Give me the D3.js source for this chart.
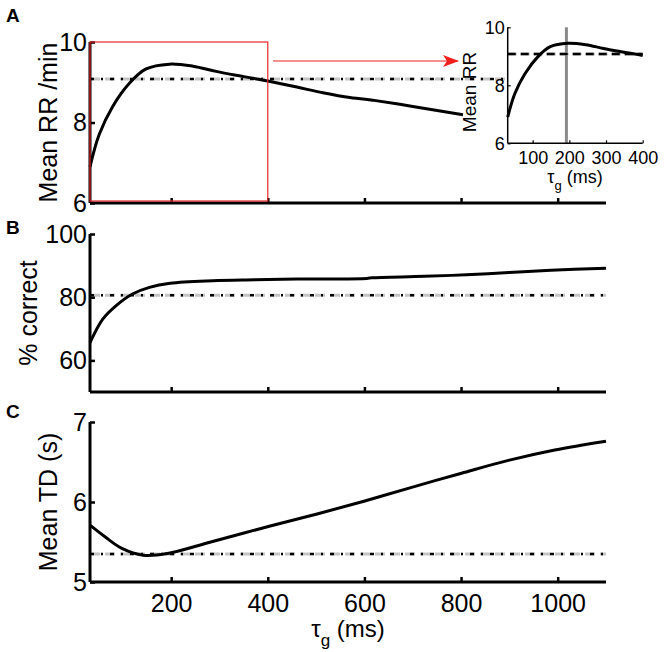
<!DOCTYPE html>
<html><head><meta charset="utf-8">
<script src="https://cdn.jsdelivr.net/npm/d3@7"></script>
<style>body{margin:0;background:#fff}svg{display:block;font-family:"Liberation Sans",Arial,sans-serif}</style>
</head><body><svg id="c" width="664" height="652"></svg>
<script>
// ---- data ----
const tauA = [32,51,79,114,148,196,245,293,341,383,400,460,514,570,614,620,700,804];
const rrA  = [6.9,7.7,8.40,8.98,9.33,9.45,9.40,9.27,9.16,9.07,9.03,8.88,8.74,8.62,8.56,8.55,8.40,8.19];
const tauB = [32,58,85,120,155,198,286,373,461,605,615,724,811,899,986,1100];
const pcB  = [65.6,73.0,77.2,81.0,83.1,84.4,85.2,85.5,85.75,85.95,86.15,86.6,87.1,87.8,88.5,89.2];
const tauC = [32,63,98,142,195,282,405,502,599,696,801,898,994,1100];
const tdC  = [5.71,5.565,5.42,5.335,5.36,5.50,5.70,5.85,6.01,6.18,6.36,6.52,6.65,6.76];
const baseA = 9.08, baseB = 80.6, baseC = 5.35;
const insetMarker = 192;
const xTicks = [200,400,600,800,1000];
const yTicksA = [6,8,10], yTicksB = [60,80,100], yTicksC = [5,6,7];
const insetXTicks = [100,200,300,400], insetYTicks = [6,8,10];
const zoomRange = [32,400];

const svg = d3.select("#c");
const x = d3.scaleLinear().domain([32,1100]).range([90,606]);
const curve = d3.curveCatmullRom.alpha(0.5);

function baseline(g, x1, x2, yy, gray, black){
  g.append("line").attr("x1",x1).attr("x2",x2).attr("y1",yy).attr("y2",yy)
    .attr("stroke","#c4c4c4").attr("stroke-width",3).attr("stroke-dasharray",gray);
  g.append("line").attr("x1",x1).attr("x2",x2).attr("y1",yy).attr("y2",yy)
    .attr("stroke","#000").attr("stroke-width",2.5).attr("stroke-dasharray",black);
}

function panel(yDom, yRange, yTicks, tau, vals, base, label, letterY, ylab, ylabX, baseEnd){
  const y = d3.scaleLinear().domain(yDom).range(yRange);
  const g = svg.append("g");
  baseline(g, 90, baseEnd || 606, y(base), "10,5", "4,7,2,7");
  g.append("path").datum(tau.map((t,i)=>[t,vals[i]]))
    .attr("fill","none").attr("stroke","#000").attr("stroke-width",3)
    .attr("d", d3.line().x(d=>x(d[0])).y(d=>y(d[1])).curve(curve));
  const ax = g.append("g").attr("transform",`translate(0,${yRange[0]})`)
    .call(d3.axisBottom(x).tickValues(xTicks).tickSize(-5).tickFormat(label==="C"?d3.format("d"):""));
  const ay = g.append("g").attr("transform","translate(90,0)")
    .call(d3.axisLeft(y).tickValues(yTicks).tickSize(-5).tickFormat(d3.format("d")));
  [ax,ay].forEach(a=>{
    a.select(".domain").attr("stroke","#000").attr("stroke-width",3).attr("d",
      a===ax ? `M90,0H606` : `M0,${yRange[0]}V${yRange[1]}`);
    a.selectAll(".tick line").attr("stroke","#000").attr("stroke-width",2.5);
    a.selectAll(".tick text").attr("font-size",25).attr("fill","#000").attr("font-family","Liberation Sans, Arial");
  });
  ay.selectAll(".tick text").attr("x",-3);
  ax.selectAll(".tick text").attr("y",12);
  svg.append("text").attr("x",6).attr("y",letterY).attr("font-size",19).attr("font-weight","bold").text(label);
  svg.append("text").attr("transform",`translate(${ylabX},${(yRange[0]+yRange[1])/2}) rotate(-90)`)
    .attr("text-anchor","middle").attr("font-size",25).text(ylab);
  return y;
}

const yA = panel([6,10],[203,42],yTicksA,tauA,rrA,baseA,"A",22,"Mean RR /min",57,505);
panel([50,100],[392,234],yTicksB,tauB,pcB,baseB,"B",234,"% correct",37);
panel([5,7],[582,422],yTicksC,tauC,tdC,baseC,"C",418,"Mean TD (s)",57);

// x label main
const xl = svg.append("text").attr("x",348).attr("y",637).attr("text-anchor","middle").attr("font-size",24);
xl.append("tspan").text("τ");
xl.append("tspan").attr("font-size",17).attr("dy",9).text("g");
xl.append("tspan").attr("dy",-9).text(" (ms)");

// red zoom box
svg.append("rect").attr("x",x(zoomRange[0])).attr("y",yA(10)).attr("width",x(zoomRange[1])-x(zoomRange[0]))
  .attr("height",yA(6)-yA(10)-2).attr("fill","none").attr("stroke","#e8262b").attr("stroke-width",1.2);
// arrow
svg.append("defs").append("marker").attr("id","ah").attr("viewBox","0 0 16 12").attr("refX",15).attr("refY",6)
  .attr("markerWidth",16).attr("markerHeight",12).attr("markerUnits","userSpaceOnUse").attr("orient","auto")
  .append("path").attr("d","M0,0L16,6L0,12L4,6Z").attr("fill","#f0201c");
svg.append("line").attr("x1",273).attr("x2",458).attr("y1",61).attr("y2",61)
  .attr("stroke","#f0201c").attr("stroke-width",1).attr("marker-end","url(#ah)");

// inset
const xi = d3.scaleLinear().domain(zoomRange).range([507.7,642.7]);
const yi = d3.scaleLinear().domain([6,10]).range([143.3,27.3]);
const gi = svg.append("g");
gi.append("line").attr("x1",xi(insetMarker)).attr("x2",xi(insetMarker)).attr("y1",yi(10)).attr("y2",yi(6))
  .attr("stroke","#8a8a8a").attr("stroke-width",3);
baseline(gi, 507.7, 642.7, yi(baseA), "9,4", "8,5");
const insetPts = tauA.map((t,i)=>[t,rrA[i]]).filter(d=>d[0]<=400);
gi.append("path").datum(insetPts).attr("fill","none").attr("stroke","#000").attr("stroke-width",3)
  .attr("d", d3.line().x(d=>xi(d[0])).y(d=>yi(d[1])).curve(curve));
const axi = gi.append("g").attr("transform","translate(0,143.3)")
  .call(d3.axisBottom(xi).tickValues(insetXTicks).tickSize(-3).tickFormat(d3.format("d")));
const ayi = gi.append("g").attr("transform","translate(507.7,0)")
  .call(d3.axisLeft(yi).tickValues(insetYTicks).tickSize(-3).tickFormat(d3.format("d")));
[axi,ayi].forEach(a=>{
  a.select(".domain").attr("stroke","#000").attr("stroke-width",1.5).attr("d", a===axi?"M507.7,0H642.7":"M0,143.3V27.3");
  a.selectAll(".tick line").attr("stroke","#000").attr("stroke-width",1.2);
  a.selectAll(".tick text").attr("font-size",18).attr("fill","#000").attr("font-family","Liberation Sans, Arial");
});
axi.selectAll(".tick text").attr("y",8);
ayi.selectAll(".tick text").attr("x",-3);
svg.append("text").attr("transform",`translate(476,92) rotate(-90)`).attr("text-anchor","middle").attr("font-size",19).text("Mean RR");
const xli = svg.append("text").attr("x",575).attr("y",183).attr("text-anchor","middle").attr("font-size",18);
xli.append("tspan").text("τ");
xli.append("tspan").attr("font-size",13).attr("dy",7).text("g");
xli.append("tspan").attr("dy",-7).text(" (ms)");
</script></body></html>
